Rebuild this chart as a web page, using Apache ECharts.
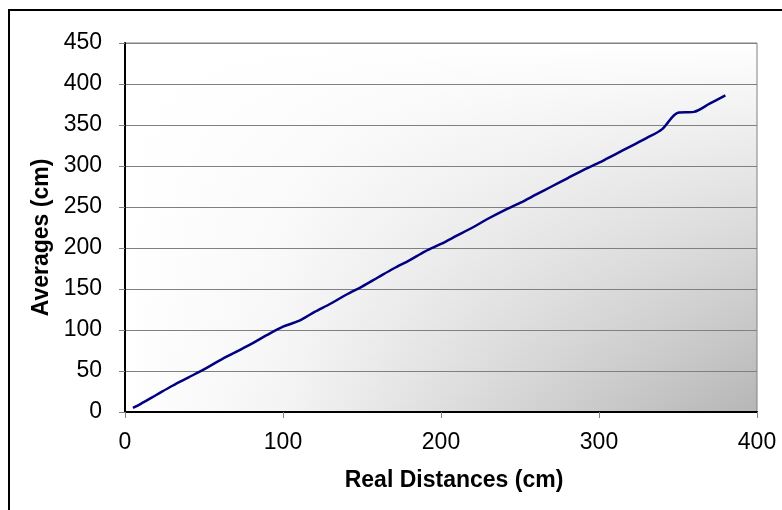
<!DOCTYPE html>
<html>
<head>
<meta charset="utf-8">
<script src="https://cdn.jsdelivr.net/npm/echarts@6/dist/echarts.min.js"></script>
<style>
  html, body { margin: 0; padding: 0; background: #ffffff; }
  #chart { width: 782px; height: 510px; }
</style>
</head>
<body>
<div id="chart"></div>
<script>
// Measured distance (cm) vs. average reading (cm)
const realDistances = [5, 10, 20, 30, 40, 50, 60, 70, 80, 90, 100, 110, 120, 130, 140, 150, 160, 170, 180, 190, 200, 210, 220, 230, 240, 250, 260, 270, 280, 290, 300, 310, 320, 330, 340, 350, 360, 370, 380];
const averages = [5, 10, 21, 32, 42, 52, 63, 73, 83, 94, 104, 111, 122, 132, 143, 153, 164, 175, 185, 196, 205, 215, 225, 236, 246, 255, 265, 275, 285, 295, 304, 314, 324, 334, 345, 365, 366, 376, 386];

const xTitle = 'Real Distances (cm)';
const yTitle = 'Averages (cm)';

const points = realDistances.map((d, i) => [d, averages[i]]);

const chart = echarts.init(document.getElementById('chart'), null, { renderer: 'canvas' });
const FONT = '"Liberation Sans", Arial, sans-serif';

const GRID = { left: 125, right: 25, top: 43, bottom: 98 };
const plotW = 782 - GRID.left - GRID.right;
const plotH = 510 - GRID.top - GRID.bottom;

chart.setOption({
  backgroundColor: '#ffffff',
  animation: false,
  graphic: [
    // outer chart frame
    {
      type: 'rect', z: -20, silent: true,
      shape: { x: 9, y: 10, width: 820, height: 560 },
      style: { fill: '#ffffff', stroke: '#000000', lineWidth: 2 }
    },
    // plot area shading: horizontal white-to-grey
    {
      type: 'rect', z: -10, silent: true,
      shape: { x: GRID.left, y: GRID.top, width: plotW, height: plotH },
      style: {
        fill: new echarts.graphic.LinearGradient(0, 0, 1, 0, [
          { offset: 0, color: '#ffffff' },
          { offset: 0.25, color: '#f4f4f4' },
          { offset: 0.5, color: '#dedede' },
          { offset: 0.75, color: '#c9c9c9' },
          { offset: 1, color: '#b6b6b6' }
        ])
      }
    },
    // plot area shading: fades to white toward the top
    {
      type: 'rect', z: -9, silent: true,
      shape: { x: GRID.left, y: GRID.top, width: plotW, height: plotH },
      style: {
        fill: new echarts.graphic.LinearGradient(0, 0, 0, 1, [
          { offset: 0, color: 'rgba(255,255,255,1)' },
          { offset: 0.35, color: 'rgba(255,255,255,0.65)' },
          { offset: 1, color: 'rgba(255,255,255,0)' }
        ])
      }
    }
  ],
  grid: {
    left: GRID.left, right: GRID.right, top: GRID.top, bottom: GRID.bottom,
    show: true,
    backgroundColor: 'transparent',
    borderColor: '#808080',
    borderWidth: 1
  },
  xAxis: {
    type: 'value',
    min: 0, max: 400, interval: 100,
    name: xTitle,
    nameLocation: 'middle',
    nameGap: 57,
    nameTextStyle: { fontFamily: FONT, fontSize: 23, fontWeight: 'bold', color: '#000', padding: [0, 0, 0, 26] },
    axisLine: { show: true, onZero: false, lineStyle: { color: '#000000', width: 2 } },
    axisTick: { show: true, length: 6, lineStyle: { color: '#808080', width: 1 } },
    axisLabel: { fontFamily: FONT, fontSize: 23, color: '#000', margin: 19 },
    splitLine: { show: false }
  },
  yAxis: {
    type: 'value',
    min: 0, max: 450, interval: 50,
    name: yTitle,
    nameLocation: 'middle',
    nameGap: 71,
    nameRotate: 90,
    nameTextStyle: { fontFamily: FONT, fontSize: 23, fontWeight: 'bold', color: '#000', padding: [0, 20, 0, 0] },
    axisLine: { show: true, onZero: false, lineStyle: { color: '#000000', width: 2 } },
    axisTick: { show: true, length: 6, lineStyle: { color: '#808080', width: 1 } },
    axisLabel: { fontFamily: FONT, fontSize: 23, color: '#000', margin: 23 },
    splitLine: { show: true, lineStyle: { color: '#808080', width: 1 } }
  },
  series: [{
    type: 'line',
    data: points,
    smooth: 0.3,
    showSymbol: false,
    lineStyle: { color: '#000080', width: 2.5 },
    z: 5
  }]
});
</script>
</body>
</html>
